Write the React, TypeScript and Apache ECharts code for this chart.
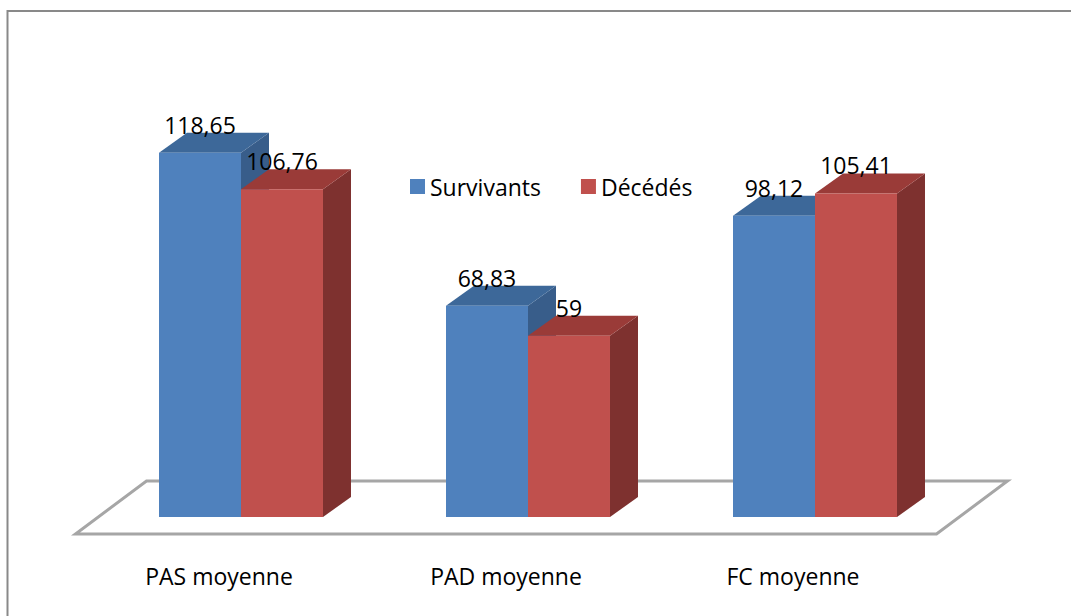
import React, { useEffect, useRef } from "react";
import * as echarts from "echarts";

const categories = ["PAS moyenne", "PAD moyenne", "FC moyenne"];
const seriesNames = ["Survivants", "Décédés"];
const survivants = [118.65, 68.83, 98.12];
const decedes = [106.76, 59, 105.41];

const FONT = "'Open Sans', 'Noto Sans', sans-serif";
const DX = 28;
const DY = -20;

const palette = [
  { front: "#4F81BD", top: "#3D6899", side: "#385D8A" },
  { front: "#C0504D", top: "#9A3B38", side: "#7E312F" },
];

function fmt(v: number) {
  return String(v).replace(".", ",");
}

function makeBarRender(side: number, colors: { front: string; top: string; side: string }) {
  return (params: any, api: any) => {
    const cat = api.value(0);
    const val = api.value(1);
    const topPt = api.coord([cat, val]);
    const basePt = api.coord([cat, 0]);
    const band = api.size([1, 0])[0];
    const w = band * 0.2857;
    const x0 = side < 0 ? topPt[0] - w : topPt[0];
    const x1 = x0 + w;
    const yT = topPt[1];
    const yB = basePt[1];
    return {
      type: "group",
      children: [
        {
          type: "polygon",
          shape: { points: [[x1, yB], [x1 + DX, yB + DY], [x1 + DX, yT + DY], [x1, yT]] },
          style: { fill: colors.side },
        },
        {
          type: "polygon",
          shape: { points: [[x0, yT], [x0 + DX, yT + DY], [x1 + DX, yT + DY], [x1, yT]] },
          style: { fill: colors.top },
        },
        {
          type: "rect",
          shape: { x: x0, y: yT, width: w, height: yB - yT },
          style: { fill: colors.front },
        },
        {
          type: "text",
          style: {
            text: fmt(val),
            x: (x0 + x1) / 2,
            y: yT + DY - 8,
            align: "center",
            verticalAlign: "middle",
            font: `23px ${FONT}`,
            fill: "#000",
          },
        },
      ],
    };
  };
}

function floorRender(params: any, api: any) {
  const cs = params.coordSys;
  const x = cs.x;
  const w = cs.width;
  const yB = cs.y + cs.height;
  const front = yB + 17;
  const back = yB - 36;
  return {
    type: "polygon",
    shape: {
      points: [
        [x - 22, front],
        [x + w - 22, front],
        [x + w + 49, back],
        [x + 49, back],
      ],
    },
    style: { fill: "#ffffff", stroke: "#A6A6A6", lineWidth: 3 },
  };
}

export default function App() {
  const ref = useRef<HTMLDivElement>(null);
  useEffect(() => {
    if (!ref.current) return;
    const chart = echarts.init(ref.current, null, { renderer: "svg" });
    const seriesData = [survivants, decedes];
    chart.setOption({
      animation: false,
      backgroundColor: "#ffffff",
      grid: { left: 97.5, width: 861, top: 56.5, height: 460.5, containLabel: false },
      legend: {
        data: seriesNames,
        left: 405,
        top: 170,
        icon: "rect",
        itemWidth: 15,
        itemHeight: 15,
        itemGap: 40,
        textStyle: { fontFamily: FONT, fontSize: 23, color: "#000" },
      },
      xAxis: {
        type: "category",
        data: categories,
        axisLine: { show: false },
        axisTick: { show: false },
        splitLine: { show: false },
        axisLabel: {
          margin: 47,
          padding: [0, 44, 0, 0],
          fontFamily: FONT,
          fontSize: 23,
          color: "#000",
        },
      },
      yAxis: { type: "value", min: 0, max: 150, show: false, splitLine: { show: false } },
      graphic: [
        {
          type: "rect",
          shape: { x: 7.5, y: 11, width: 1100, height: 700 },
          style: { fill: "none", stroke: "#898989", lineWidth: 2 },
          silent: true,
        },
      ],
      series: [
        {
          type: "custom",
          name: "floor",
          z: 1,
          renderItem: floorRender,
          data: [[0, 0]],
          encode: { x: 0, y: 1 },
          silent: true,
        },
        ...seriesNames.map((name, si) => ({
          type: "custom",
          name,
          z: 2 + si,
          itemStyle: { color: palette[si].front },
          renderItem: makeBarRender(si === 0 ? -1 : 1, palette[si]),
          data: categories.map((_, i) => [i, seriesData[si][i]]),
          encode: { x: 0, y: 1 },
        })),
      ],
    });
    return () => chart.dispose();
  }, []);
  return (
    <div
      ref={ref}
      style={{ position: "fixed", left: 0, top: 0, width: 1071, height: 616, background: "#fff" }}
    />
  );
}
